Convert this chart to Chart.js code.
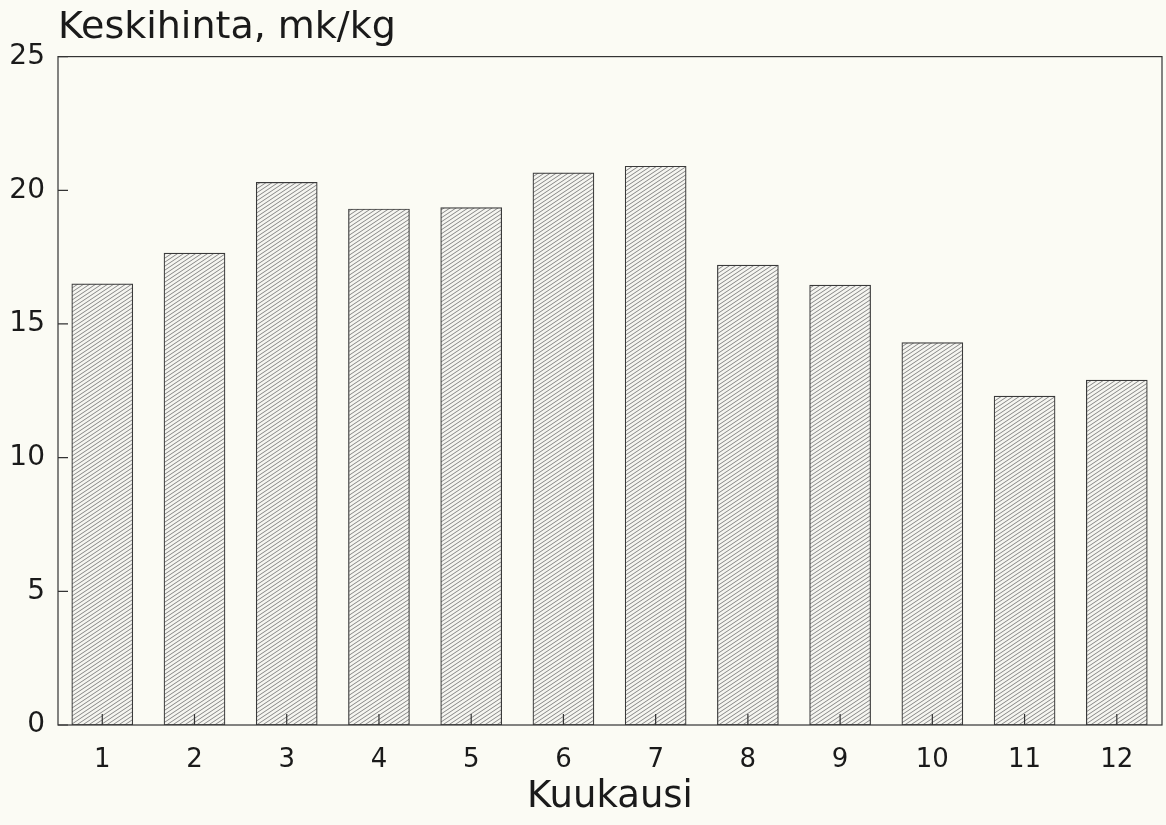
<!DOCTYPE html>
<html>
<head>
<meta charset="utf-8">
<script src="https://cdn.jsdelivr.net/npm/chart.js@4/dist/chart.umd.min.js"></script>
<style>
  html, body { margin: 0; padding: 0; background: #fbfbf4; }
  #wrap { width: 1166px; height: 825px; }
</style>
</head>
<body>
<div id="wrap"><canvas id="kaavio"></canvas></div>
<script>
// kuukausittaiset keskihinnat
const kuukaudet = [1, 2, 3, 4, 5, 6, 7, 8, 9, 10, 11, 12];
const keskihinta = [16.5, 17.65, 20.3, 19.3, 19.35, 20.65, 20.9, 17.2, 16.45, 14.3, 12.3, 12.9];
const yTicks = [0, 5, 10, 15, 20, 25];

// vinoviivoitus pylväisiin
function viivoitus() {
  const c = document.createElement('canvas');
  c.width = 12; c.height = 8;
  const g = c.getContext('2d');
  g.fillStyle = '#f5f5f0';
  g.fillRect(0, 0, 12, 8);
  g.strokeStyle = '#7c7c7c';
  g.lineWidth = 0.9;
  for (let k = -2; k <= 4; k++) {
    g.beginPath();
    g.moveTo(0, 8 + k * 4);
    g.lineTo(12, k * 4);
    g.stroke();
  }
  return g.createPattern(c, 'repeat');
}

const fontti = 'DejaVu Sans, sans-serif';

// kehys ja sisäänpäin osoittavat tikit
const kehys = {
  id: 'kehys',
  afterDatasetsDraw(chart) {
    const { ctx, chartArea: a, scales } = chart;
    ctx.save();
    ctx.strokeStyle = '#333';
    ctx.lineWidth = 1.2;
    ctx.strokeRect(a.left, a.top, a.right - a.left, a.bottom - a.top);
    ctx.beginPath();
    kuukaudet.forEach(v => {
      const x = scales.x.getPixelForValue(v);
      ctx.moveTo(x, a.bottom);
      ctx.lineTo(x, a.bottom - 11);
    });
    yTicks.forEach(v => {
      const y = scales.y.getPixelForValue(v);
      ctx.moveTo(a.left, y);
      ctx.lineTo(a.left + 10, y);
    });
    ctx.stroke();
    ctx.restore();
  }
};

new Chart(document.getElementById('kaavio'), {
  type: 'bar',
  data: {
    datasets: [{
      data: kuukaudet.map((k, i) => ({ x: k, y: keskihinta[i] })),
      backgroundColor: viivoitus(),
      borderColor: '#3a3a3a',
      borderWidth: 1.2,
      borderSkipped: false,
      barThickness: 61
    }]
  },
  options: {
    responsive: true,
    maintainAspectRatio: false,
    animation: false,
    layout: { padding: { left: 0, right: 4, top: 0, bottom: 0 } },
    plugins: {
      legend: { display: false },
      tooltip: { enabled: false },
      title: {
        display: true,
        text: 'Keskihinta, mk/kg',
        align: 'start',
        fullSize: false,
        color: '#1a1a1a',
        font: { family: fontti, size: 38, weight: 'normal' },
        padding: { top: 5, bottom: 6 }
      }
    },
    scales: {
      x: {
        type: 'linear',
        offset: false,
        min: 0.52,
        max: 12.49,
        afterBuildTicks(s) { s.ticks = kuukaudet.map(v => ({ value: v })); },
        afterFit(s) { s.height = 100; },
        grid: { display: false, drawTicks: false, offset: false },
        border: { display: false },
        ticks: {
          color: '#1a1a1a',
          font: { family: fontti, size: 26 },
          padding: 20
        },
        title: {
          display: true,
          text: 'Kuukausi',
          color: '#1a1a1a',
          font: { family: fontti, size: 37 },
          padding: { top: 0, bottom: 5 }
        }
      },
      y: {
        min: 0,
        max: 25,
        afterBuildTicks(s) { s.ticks = yTicks.map(v => ({ value: v })); },
        afterFit(s) { s.width = 58; },
        grid: { display: false, drawTicks: false },
        border: { display: false },
        ticks: {
          color: '#1a1a1a',
          font: { family: fontti, size: 28 },
          padding: 13
        }
      }
    }
  },
  plugins: [kehys]
});
</script>
</body>
</html>
